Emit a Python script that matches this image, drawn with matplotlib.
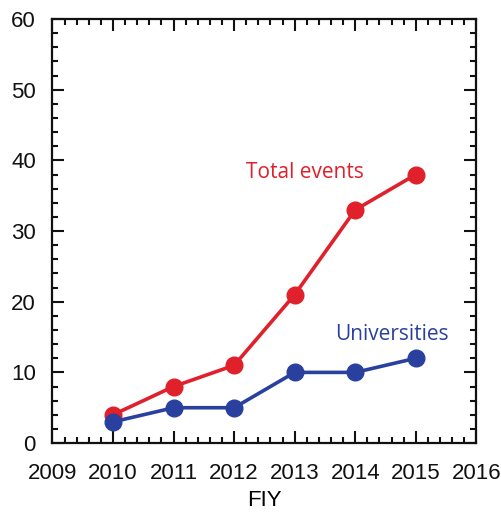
import matplotlib
matplotlib.use("Agg")
import matplotlib.pyplot as plt
from matplotlib.ticker import MultipleLocator

# data
years = [2010, 2011, 2012, 2013, 2014, 2015]
total_events = [4, 8, 11, 21, 33, 38]
universities = [3, 5, 5, 10, 10, 12]

RED = "#e0202b"
BLUE = "#2a409f"

plt.rcParams['font.family'] = ['Liberation Sans', 'DejaVu Sans']

fig = plt.figure(figsize=(5.02, 5.14), dpi=100)
ax = fig.add_axes([0.1045, 0.138, 0.8445, 0.825])

ax.plot(years, total_events, '-o', color=RED, lw=2.6, markersize=12, zorder=3)
ax.plot(years, universities, '-o', color=BLUE, lw=2.6, markersize=12, zorder=4)

ax.text(2012.2, 38.3, "Total events", color=RED, fontsize=15,
        family=['Open Sans', 'DejaVu Sans'], va='center')
ax.text(2013.66, 15.4, "Universities", color=BLUE, fontsize=15,
        family=['Open Sans', 'DejaVu Sans'], va='center')

ax.set_xlim(2009, 2016)
ax.set_ylim(0, 60)
ax.xaxis.set_major_locator(MultipleLocator(1))
ax.xaxis.set_minor_locator(MultipleLocator(0.2))
ax.yaxis.set_major_locator(MultipleLocator(10))
ax.yaxis.set_minor_locator(MultipleLocator(2))

ax.tick_params(which='both', direction='in', top=True, right=True,
               width=1.5, labelsize=16, colors='#111111')
ax.tick_params(axis='x', pad=14)
ax.tick_params(axis='y', pad=12)
ax.tick_params(which='major', length=8.5)
ax.tick_params(which='minor', length=4.3)
for s in ax.spines.values():
    s.set_linewidth(1.6)
    s.set_color('#111111')

ax.set_xlabel("FIY", fontsize=16, labelpad=5)

fig.savefig("out.png", dpi=100)
